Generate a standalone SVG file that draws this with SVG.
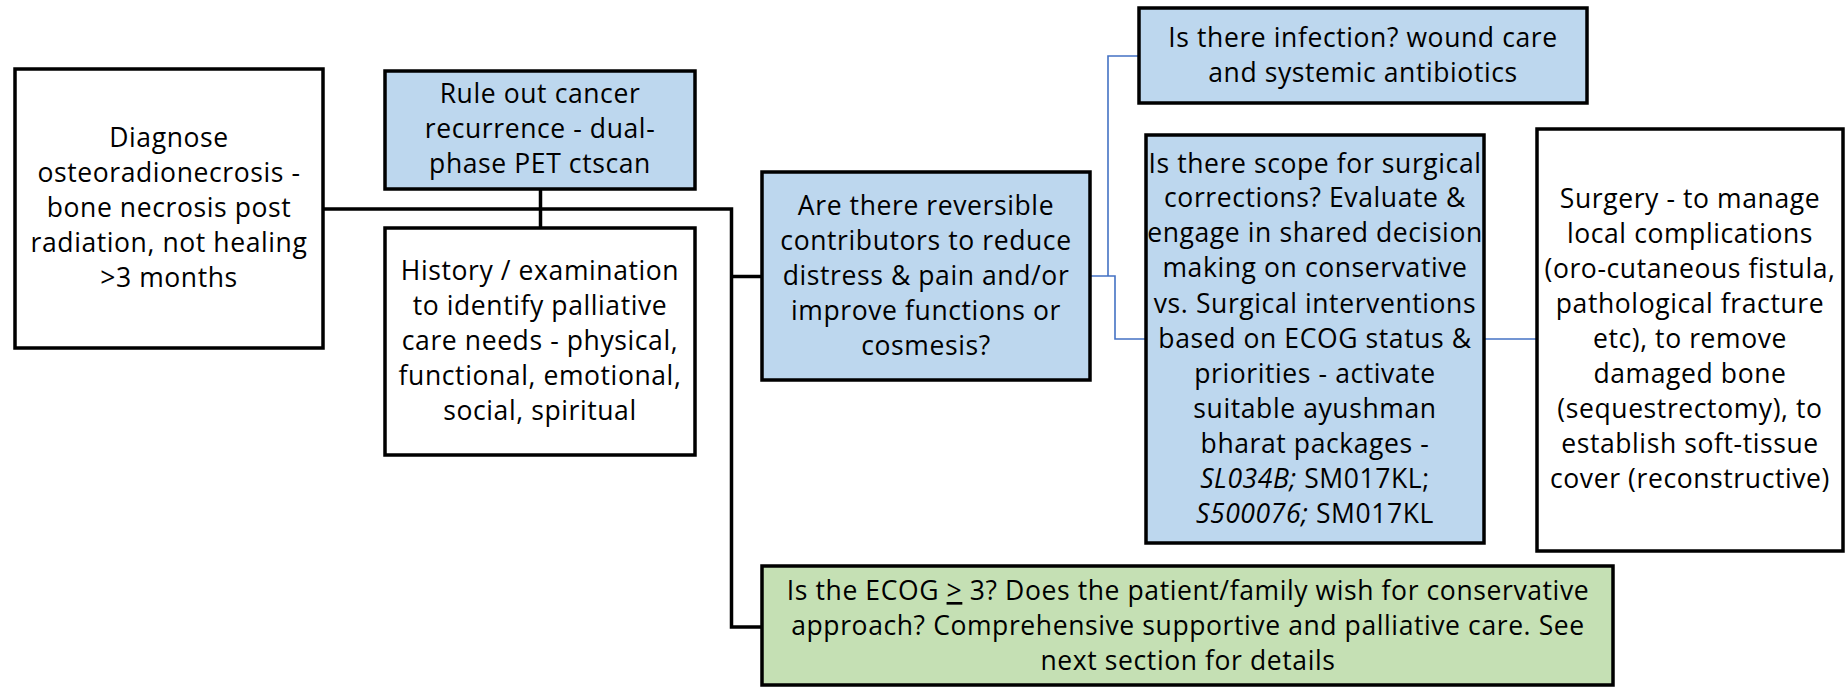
<svg xmlns="http://www.w3.org/2000/svg" width="1845" height="688" viewBox="0 0 1845 688">
<style>
.box{stroke:#000;stroke-width:3.5}
.w{fill:#fff}
.b{fill:#BDD7EE}
.g{fill:#C5E0B4}
text{font-family:"Open Sans","Noto Sans",sans-serif;font-size:26.5px;fill:#000;text-anchor:middle;letter-spacing:0.6px}
.k{fill:none;stroke:#000;stroke-width:3.5}
.c{fill:none;stroke:#4472C4;stroke-width:1.6}
.i{font-style:italic}
</style>
<rect width="1845" height="688" fill="#fff"/>
<g id="connectors">
<path class="k" d="M323 209 H731.5 V627 H762"/>
<path class="k" d="M731.5 276.5 H762"/>
<path class="k" d="M540.5 189 V228"/>
<path class="c" d="M1090 276 H1115 V339 H1146"/>
<path class="c" d="M1108 276 V56 H1139"/>
<path class="c" d="M1484 339 H1537"/>
</g>
<g id="diagnose">
<rect class="box w" x="15" y="69" width="308" height="279"/>
<text x="169" y="147">Diagnose</text>
<text x="169" y="182">osteoradionecrosis -</text>
<text x="169" y="217">bone necrosis post</text>
<text x="169" y="252">radiation, not healing</text>
<text x="169" y="287">&gt;3 months</text>
</g>
<g id="rule-out">
<rect class="box b" x="385" y="71" width="310" height="118"/>
<text x="540" y="103">Rule out cancer</text>
<text x="540" y="138">recurrence - dual-</text>
<text x="540" y="173">phase PET ctscan</text>
</g>
<g id="history">
<rect class="box w" x="385" y="228" width="310" height="227"/>
<text x="540" y="280">History / examination</text>
<text x="540" y="315">to identify palliative</text>
<text x="540" y="350">care needs - physical,</text>
<text x="540" y="385">functional, emotional,</text>
<text x="540" y="420">social, spiritual</text>
</g>
<g id="reversible">
<rect class="box b" x="762" y="172" width="328" height="208"/>
<text x="926" y="215">Are there reversible</text>
<text x="926" y="250">contributors to reduce</text>
<text x="926" y="285">distress &amp; pain and/or</text>
<text x="926" y="320">improve functions or</text>
<text x="926" y="355">cosmesis?</text>
</g>
<g id="infection">
<rect class="box b" x="1139" y="8" width="448" height="95"/>
<text x="1363" y="47">Is there infection? wound care</text>
<text x="1363" y="82">and systemic antibiotics</text>
</g>
<g id="surgical-scope">
<rect class="box b" x="1146" y="135" width="338" height="408"/>
<text x="1315" y="173">Is there scope for surgical</text>
<text x="1315" y="207">corrections? Evaluate &amp;</text>
<text x="1315" y="242">engage in shared decision</text>
<text x="1315" y="277">making on conservative</text>
<text x="1315" y="313">vs. Surgical interventions</text>
<text x="1315" y="348">based on ECOG status &amp;</text>
<text x="1315" y="383">priorities - activate</text>
<text x="1315" y="418">suitable ayushman</text>
<text x="1315" y="453">bharat packages -</text>
<text x="1315" y="488"><tspan class="i">SL034B;</tspan> SM017KL;</text>
<text x="1315" y="523"><tspan class="i">S500076;</tspan> SM017KL</text>
</g>
<g id="surgery">
<rect class="box w" x="1537" y="129" width="306" height="422"/>
<text x="1690" y="208">Surgery - to manage</text>
<text x="1690" y="243">local complications</text>
<text x="1690" y="278">(oro-cutaneous fistula,</text>
<text x="1690" y="313">pathological fracture</text>
<text x="1690" y="348">etc), to remove</text>
<text x="1690" y="383">damaged bone</text>
<text x="1690" y="418">(sequestrectomy), to</text>
<text x="1690" y="453">establish soft-tissue</text>
<text x="1690" y="488">cover (reconstructive)</text>
</g>
<g id="conservative">
<rect class="box g" x="762" y="566" width="851" height="119"/>
<text x="1188" y="600">Is the ECOG <tspan text-decoration="underline">&gt;</tspan> 3? Does the patient/family wish for conservative</text>
<text x="1188" y="635">approach? Comprehensive supportive and palliative care. See</text>
<text x="1188" y="670">next section for details</text>
</g>
</svg>
